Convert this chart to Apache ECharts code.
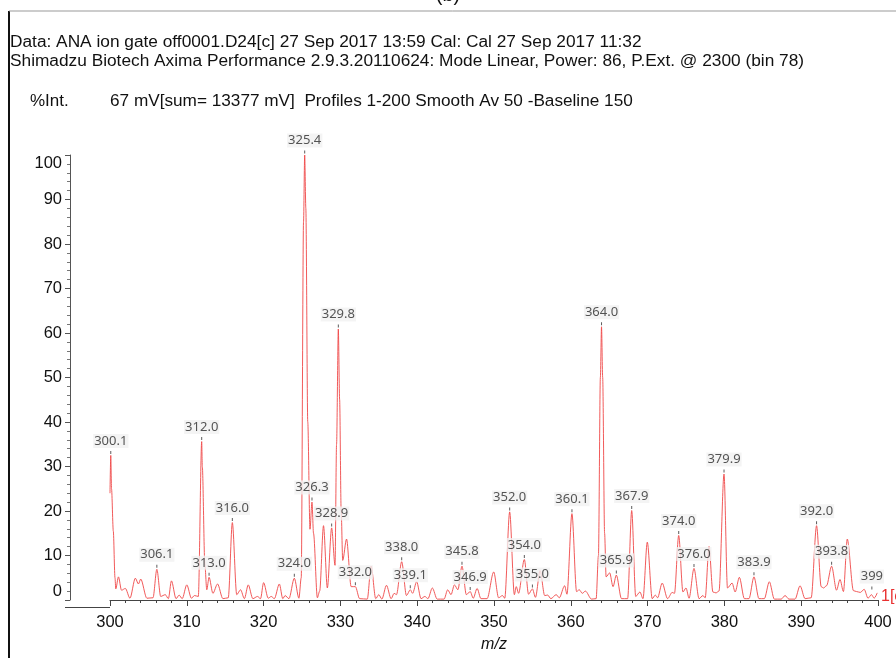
<!DOCTYPE html>
<html>
<head>
<meta charset="utf-8">
<script src="https://cdn.jsdelivr.net/npm/echarts@6/dist/echarts.min.js"></script>
<style>
html,body{margin:0;padding:0;background:#fff;}
#chart{width:896px;height:658px;}
</style>
</head>
<body>
<div id="chart"></div>
<script>
// m/z values and relative intensities (%Int.)
const mz = [300.0,300.1,300.2,300.43,300.65,300.75,301.1,301.5,302.0,302.6,303.3,303.7,304.0,304.8,305.6,306.1,306.6,307.2,307.6,308.0,308.6,309.0,309.4,310.0,310.6,311.0,311.5,311.94,312.02,312.35,312.6,312.9,313.4,314.0,314.7,315.4,315.93,316.5,317.0,317.5,318.0,318.6,319.2,319.6,320.0,320.6,321.0,321.4,322.05,322.5,322.8,323.3,324.0,324.6,324.9,325.2,325.35,325.5,325.75,326.04,326.3,326.5,327.0,327.3,327.8,328.3,328.86,329.3,329.5,329.73,329.9,330.1,330.3,330.8,331.4,331.95,332.5,333.5,334.0,334.6,335.0,335.4,336.0,336.6,337.0,337.3,337.98,338.6,339.1,339.4,339.93,340.5,341.0,341.4,341.97,342.6,343.5,343.97,344.4,344.85,345.3,345.83,346.4,346.9,347.3,347.8,348.3,349.1,349.96,350.6,351.1,351.4,352.04,352.65,352.9,353.2,353.95,354.5,355.0,355.4,356.0,356.6,357.0,357.4,358.1,358.5,359.2,359.5,360.15,360.75,361.1,361.5,361.9,362.7,363.3,363.6,363.85,364.0,364.15,364.4,364.6,365.06,365.5,365.93,366.6,367.4,367.93,368.45,369.0,369.4,369.96,370.6,371.0,371.3,371.9,372.6,373.2,373.5,374.05,374.6,375.0,375.4,376.04,376.7,377.2,377.5,378.0,378.5,378.9,379.3,379.95,380.4,381.0,381.4,381.95,382.6,383.2,383.85,384.5,385.2,385.85,386.5,387.4,387.9,388.4,389.2,389.85,390.5,391.3,392.0,392.6,392.9,393.3,393.96,394.6,395.05,395.5,396.0,396.8,397.2,397.7,398.2,398.7,399.15,399.5,399.9];
const intensity = [24,32.5,25,15.5,5,2.5,5.2,2.2,2.6,0.4,4.9,3.6,4.7,0.4,0.5,6.9,0.8,1.2,0.3,4.3,0.3,1.1,0.3,3.4,0.4,1.0,0.8,35.6,30,8,2.3,5.1,1.5,3.6,0.3,0.5,17.4,1.2,2.3,0.3,3.4,0.3,0.8,0.3,3.9,0.4,0.8,0.3,3.6,0.3,1.0,0.3,4.9,0.4,5,85,100,88,40,15.9,22,15,0.5,2,16.7,2.7,16.2,7.8,35,60.9,45,20,8.9,13.7,3,3,0.3,0.2,7.6,0.3,1.2,0.2,3.3,0.3,1.5,1.2,8.6,1.0,2.3,1.5,4.1,0.3,0.8,0.3,2.7,0.2,0.2,2.3,1.2,3.4,2.3,7.6,1.2,1.9,0.4,2.6,0.3,0.3,6.3,0.5,1.0,0.4,19.8,1.2,3,1.5,9.1,1.3,2.5,0.6,6.6,1.0,1.1,0.3,1.2,0.5,3.2,1.3,19.4,1.9,2.3,1.5,2,0.2,0.3,10,50,61.4,50,15,5.2,6.1,3,5.6,0.3,0.3,20.1,0.8,1.8,0.3,13,0.3,1.1,0.5,3.8,0.3,1.7,1.5,14.5,1.8,2.7,0.4,7.1,0.3,1,0.5,12,1.8,1.6,2,28.3,2.7,3.8,1.8,5.1,0.3,0.3,5.2,0.3,0.3,4.1,0.2,0.2,1.0,0.2,0.2,3.2,0.3,0.5,16.7,3,2.7,3.2,7.6,2.2,4.6,1.9,13.7,2.1,1.9,1.7,2.4,0.4,1.2,0.4,1.6];

// annotated peaks
const peakLabels = ['300.1','306.1','312.0','313.0','316.0','324.0','325.4','326.3','328.9','329.8','332.0','338.0','339.1','345.8','346.9','352.0','354.0','355.0','360.1','364.0','365.9','367.9','374.0','376.0','379.9','383.9','392.0','393.8','399'];
const peakMz = [300.1,306.1,311.94,312.9,315.93,324.0,325.35,326.3,328.86,329.73,331.95,337.98,339.1,345.83,346.9,352.04,353.95,355.0,360.15,364.0,365.93,367.93,374.05,376.04,379.95,383.85,392.0,393.96,399.2];
const peakInt = [32.5,6.9,35.6,5.1,17.4,4.9,100,22,16.2,60.9,3,8.6,2.3,7.6,1.9,19.8,9.1,2.5,19.4,61.4,5.6,20.1,14.5,7.1,28.3,5.2,16.7,7.6,2.0];

const xTicks = {min: 300, max: 400, interval: 10};
const yTicks = {min: 0, max: 100, interval: 10};

const headerLine1 = 'Data: ANA ion gate off0001.D24[c] 27 Sep 2017 13:59 Cal: Cal 27 Sep 2017 11:32';
const headerLine2 = 'Shimadzu Biotech Axima Performance 2.9.3.20110624: Mode Linear, Power: 86, P.Ext. @ 2300 (bin 78)';
const yName = '%Int.';
const infoText = '67 mV[sum= 13377 mV]  Profiles 1-200 Smooth Av 50 -Baseline 150';

const chart = echarts.init(document.getElementById('chart'), null, {renderer: 'canvas'});
const FONT = '"Liberation Sans", Arial, sans-serif';

const option = {
  backgroundColor: '#fff',
  animation: false,
  grid: {left: 110, right: 18, top: 155, bottom: 51, containLabel: false},
  xAxis: {
    type: 'value', min: xTicks.min, max: xTicks.max, interval: xTicks.interval,
    name: 'm/z', nameLocation: 'middle', nameGap: 37,
    nameTextStyle: {fontFamily: FONT, fontSize: 16, fontStyle: 'italic', color: '#111'},
    splitLine: {show: false},
    axisLine: {lineStyle: {color: '#444', width: 1}},
    axisTick: {show: true, length: 6, lineStyle: {color: '#444'}},
    minorTick: {show: true, splitNumber: 5, length: 3, lineStyle: {color: '#444'}},
    axisLabel: {fontFamily: FONT, fontSize: 16.5, color: '#111', margin: 14}
  },
  yAxis: {
    type: 'value', min: yTicks.min, max: yTicks.max, interval: yTicks.interval,
    offset: 40,
    splitLine: {show: false},
    axisLine: {show: true, lineStyle: {color: '#555', width: 1}},
    axisTick: {show: true, length: 5, lineStyle: {color: '#555'}},
    minorTick: {show: true, splitNumber: 5, length: 3, lineStyle: {color: '#777'}},
    axisLabel: {fontFamily: FONT, fontSize: 16.5, color: '#111', margin: 8,
      verticalAlignMinLabel: 'bottom', verticalAlignMaxLabel: 'top'}
  },
  series: [
    {
      type: 'line',
      data: mz.map((m, i) => [m, intensity[i]]),
      showSymbol: false,
      smooth: 0.3,
      smoothMonotone: 'x',
      lineStyle: {color: '#f04848', width: 1, opacity: 0.9},
      z: 2
    },
    {
      type: 'scatter',
      data: peakMz.map((m, i) => ({name: peakLabels[i], value: [m, peakInt[i]]})),
      symbol: 'rect',
      symbolSize: [1, 3],
      symbolOffset: [0, -3],
      itemStyle: {color: '#333'},
      label: {
        show: true, position: 'top', distance: 3,
        formatter: p => p.name,
        fontFamily: '"Noto Sans", sans-serif', fontSize: 13, color: '#2a2a2a',
        backgroundColor: '#f1f1f1', padding: [0, 1, 0, 1], lineHeight: 14
      },
      z: 3
    }
  ],
  graphic: [
    {type: 'line', shape: {x1: 9, y1: 11, x2: 9, y2: 658}, style: {stroke: '#111', lineWidth: 2}},
    {type: 'line', shape: {x1: 9, y1: 11, x2: 896, y2: 11}, style: {stroke: '#999', lineWidth: 1}},
    {type: 'line', shape: {x1: 65, y1: 607.5, x2: 110, y2: 607.5}, style: {stroke: '#444', lineWidth: 1}},
    {type: 'text', x: 448, y: 5, style: {text: '(b)', fontFamily: FONT, fontSize: 20, fill: '#111', textAlign: 'center', textVerticalAlign: 'bottom'}},
    {type: 'text', x: 10, y: 42, style: {text: headerLine1, fontFamily: FONT, fontSize: 17.3, fill: '#111', textVerticalAlign: 'middle'}},
    {type: 'text', x: 10, y: 61, style: {text: headerLine2, fontFamily: FONT, fontSize: 17.3, fill: '#111', textVerticalAlign: 'middle'}},
    {type: 'text', x: 30, y: 101, style: {text: yName, fontFamily: FONT, fontSize: 17, fill: '#111', textVerticalAlign: 'middle'}},
    {type: 'text', x: 110, y: 101, style: {text: infoText, fontFamily: FONT, fontSize: 17.2, fill: '#111', textVerticalAlign: 'middle'}},
    {type: 'text', x: 881, y: 597, style: {text: '1[c]', fontFamily: FONT, fontSize: 16, fill: '#e83030', textVerticalAlign: 'middle'}}
  ]
};
chart.setOption(option);
</script>
</body>
</html>
